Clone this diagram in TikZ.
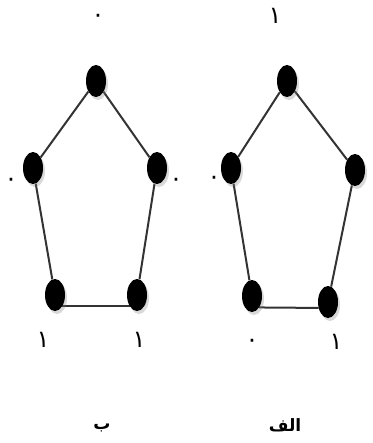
\documentclass[tikz,border=0pt]{standalone}
\usepackage{fontspec}
\newfontfamily\arabicfont[Script=Arabic]{DejaVu Sans}
\TeXXeTstate=1
\usetikzlibrary{shapes.geometric, shadows, positioning, backgrounds}
\tikzstyle{edge}=[line width=2pt, color=black!80]

\begin{document}
\begin{tikzpicture}[x=1pt, y=-1pt,
  vtx/.style={ellipse, fill=black, minimum width=20pt, minimum height=32pt,
              inner sep=0pt, drop shadow={shadow xshift=2pt, shadow yshift=-3pt, opacity=0.3}},
  num/.style={font=\arabicfont\fontsize{24}{26}\selectfont, inner sep=0pt},
  captxt/.style={font=\arabicfont\bfseries\fontsize{17}{19}\selectfont, inner sep=0pt}
]
\useasboundingbox (0,0) rectangle (372,443);

% Pentagon b (left)
\node[vtx] (b_top) at (96,81) {};
\node[vtx] (b_left) at (33,168) {};
\node[vtx] (b_right) at (157,168) {};
\node[vtx] (b_bl) at (55,295) {};
\node[vtx] (b_br) at (137,295) {};

\node[num] (b_top_lbl) at (98,18) {۰};
\node[num] (b_left_lbl) at (11,182) {۰};
\node[num] (b_right_lbl) at (176,182) {۰};
\node[num] (b_bl_lbl) at (43,340) {۱};
\node[num] (b_br_lbl) at (139,340) {۱};

% Pentagon alef (right)
\node[vtx] (a_top) at (287,81) {};
\node[vtx] (a_left) at (231,168) {};
\node[vtx] (a_right) at (355,170) {};
\node[vtx] (a_bl) at (252,296) {};
\node[vtx] (a_br) at (328,302) {};

\node[num] (a_top_lbl) at (275,16) {۱};
\node[num] (a_left_lbl) at (214,180) {۰};
\node[num] (a_bl_lbl) at (252,343) {۰};
\node[num] (a_br_lbl) at (336,342) {۱};

% Captions
\node[captxt] (b_cap) at (102,428) {\beginR ب\endR};
\node[captxt] (a_cap) at (285,425) {\beginR الف\endR};

\begin{scope}[on background layer]
\draw[edge] (b_top) -- (b_right) -- (b_br);
\draw[edge] (b_br.south west) -- (b_bl.south east);
\draw[edge] (b_bl) -- (b_left) -- (b_top);
\draw[edge] (a_top) -- (a_right) -- (a_br);
\draw[edge] (a_br.212) -- (a_bl.south east);
\draw[edge] (a_bl) -- (a_left) -- (a_top);
\end{scope}
\end{tikzpicture}
\end{document}
